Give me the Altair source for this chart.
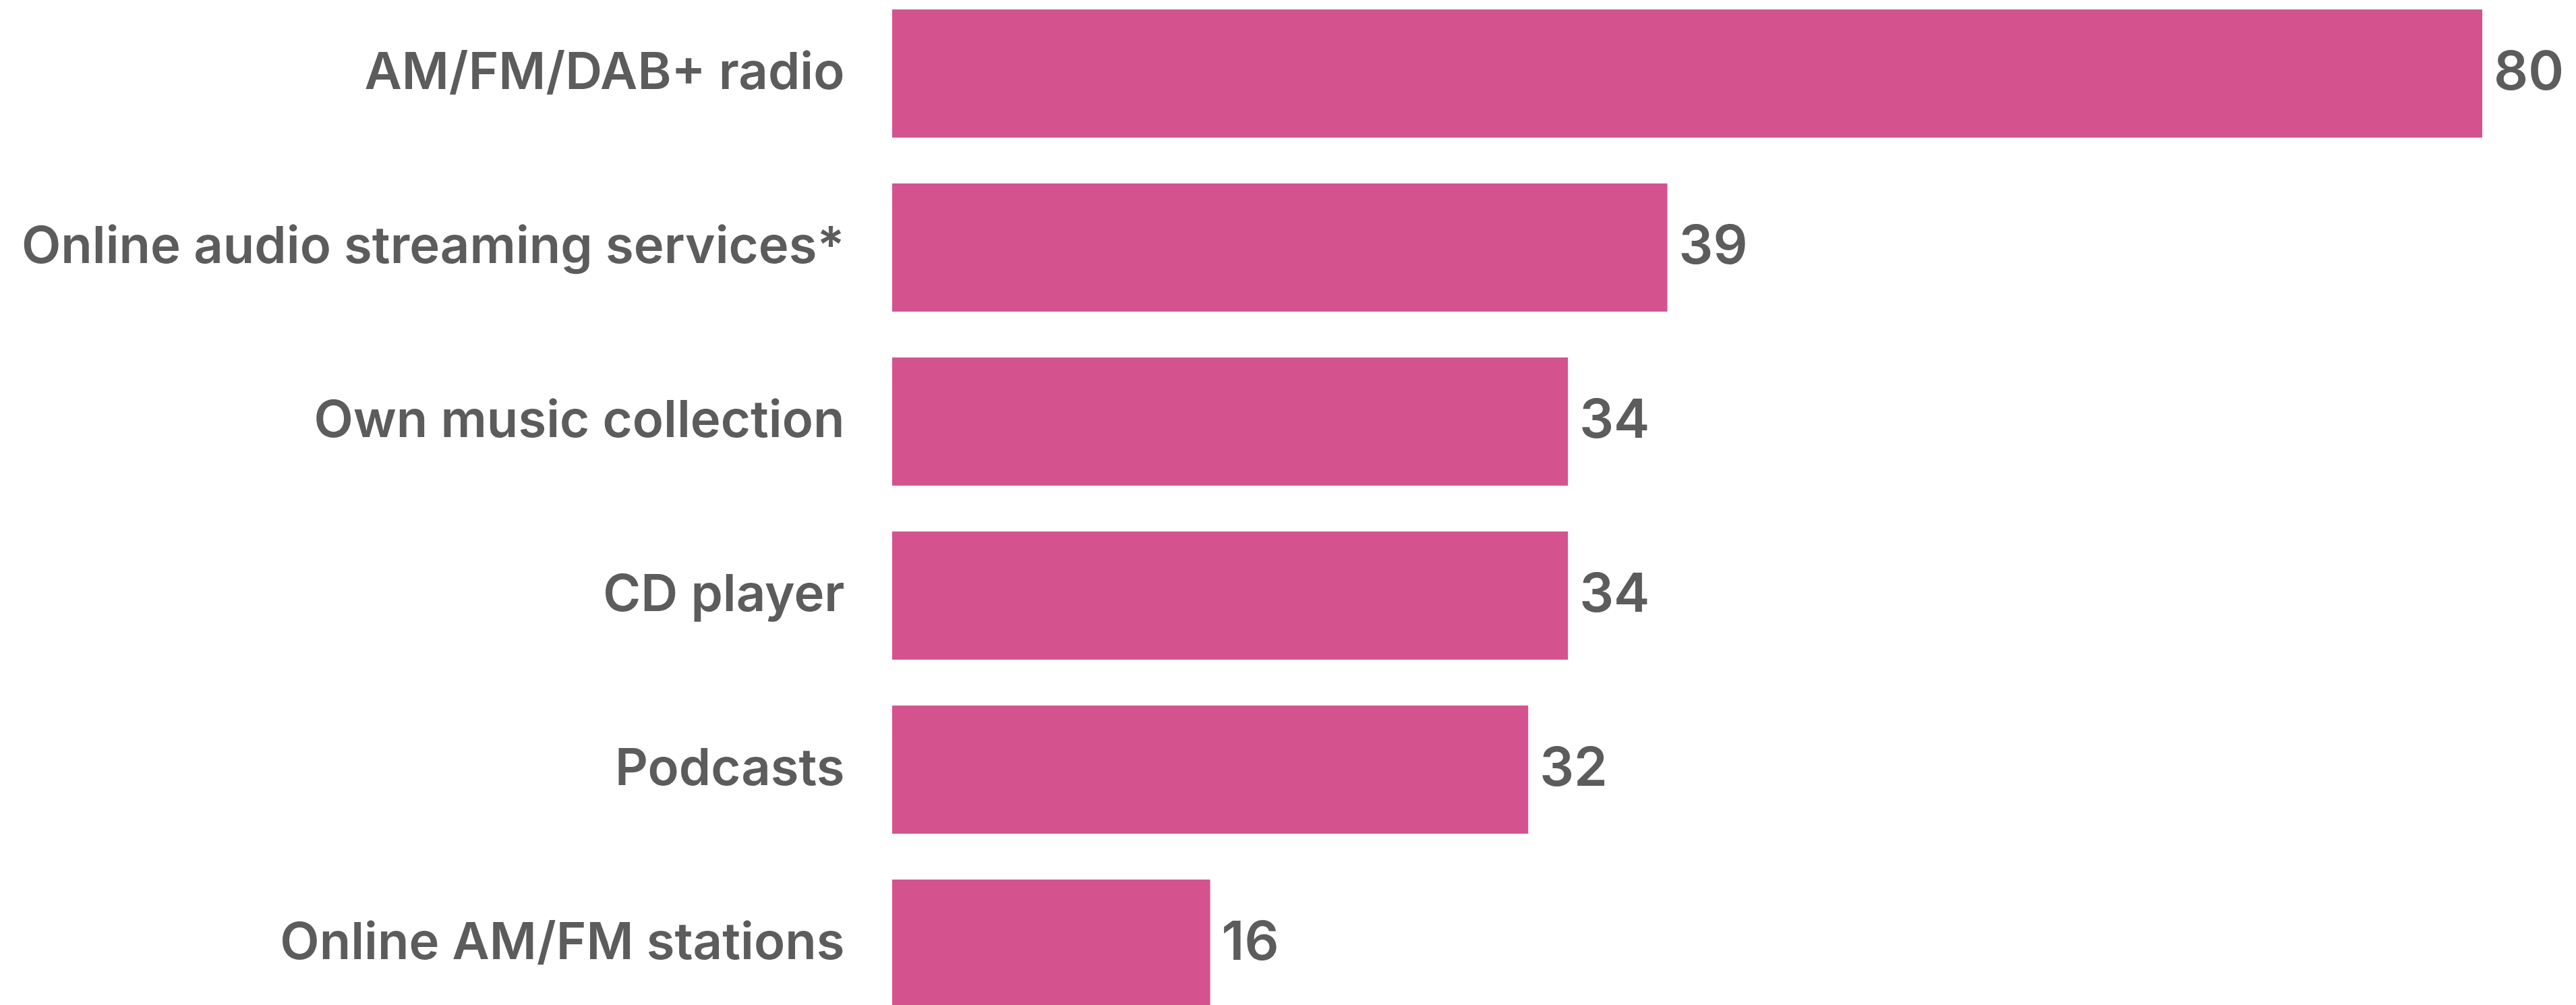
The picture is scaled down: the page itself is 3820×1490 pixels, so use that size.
import altair as alt
import pandas as pd

categories = [
    "AM/FM/DAB+ radio",
    "Online audio streaming services*",
    "Own music collection",
    "CD player",
    "Podcasts",
    "Online AM/FM stations",
]
values = [80, 39, 34, 34, 32, 16]

df = pd.DataFrame({"category": categories, "value": values})

FONT = "Inter"
TEXT_COLOR = "#5c5c5c"
BAR_COLOR = "#d4538f"

y_enc = alt.Y(
    "category:N",
    sort=categories,
    scale=alt.Scale(range=[14, 1494], paddingInner=0.264, paddingOuter=0),
    axis=alt.Axis(
        title=None,
        domain=False,
        ticks=False,
        labelPadding=71,
        labelFontSize=76,
        labelFont=FONT,
        labelFontWeight=600,
        labelColor=TEXT_COLOR,
        labelLimit=0,
    ),
)
x_enc = alt.X("value:Q", scale=alt.Scale(domain=[0, 80], range=[0, 2358]), axis=None)

base = alt.Chart(df).encode(y=y_enc, x=x_enc)

bars = base.mark_bar(color=BAR_COLOR)
labels = base.mark_text(
    align="left", baseline="middle", dx=17, font=FONT, fontSize=80,
    fontWeight=600, color=TEXT_COLOR,
).encode(text="value:Q")

chart = (
    (bars + labels)
    .properties(
        width=2497,
        height=1490,
        padding={"left": 1323, "right": 0, "top": 0, "bottom": 0},
        autosize=alt.AutoSizeParams(type="none"),
        background="white",
    )
    .configure_view(strokeWidth=0)
)

chart.save("out.html", embed_options={"renderer": "svg", "actions": False})
